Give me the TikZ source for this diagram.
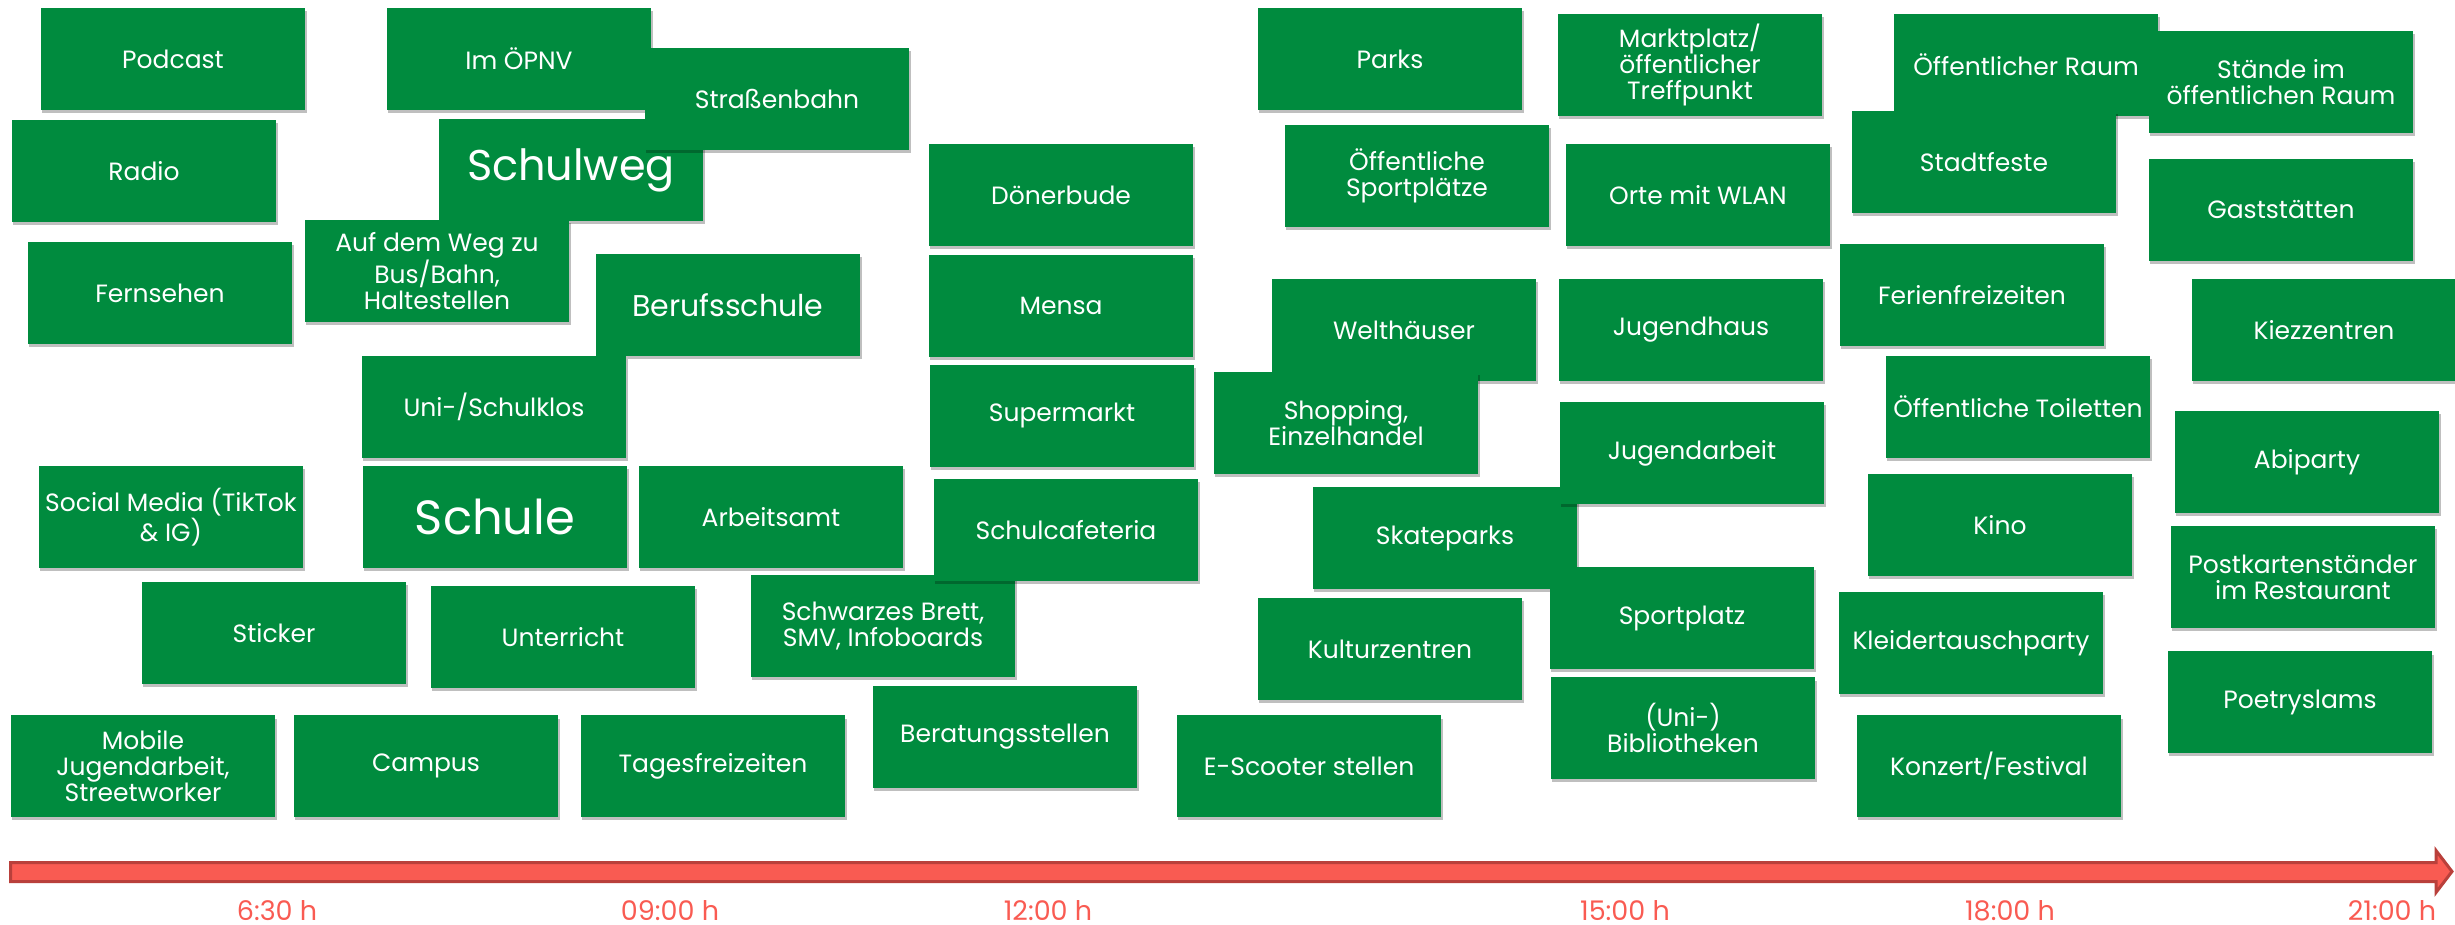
\documentclass[tikz,border=0pt]{standalone}
\usepackage{fontspec}
\setmainfont{Poppins}
\usepackage{xcolor}
\usepackage{tikz}
\usetikzlibrary{shadows}

\definecolor{boxgreen}{RGB}{0,139,62}
\definecolor{timered}{RGB}{249,91,82}
\definecolor{timedark}{RGB}{185,64,59}

\tikzset{
    box/.style={fill=boxgreen, text=white, align=center, inner sep=0pt,
        minimum width=105.8pt, minimum height=40.6pt,
        font=\fontsize{10}{10.4}\selectfont,
        drop shadow={shadow xshift=0.5pt, shadow yshift=-1.3pt, fill=black, opacity=0.25}},
    timelabel/.style={text=timered, anchor=base, inner sep=0pt, font=\fontsize{10.8}{13}\selectfont}
}

\begin{document}
\begin{tikzpicture}[x=0.4pt, y=-0.4pt]
            \useasboundingbox (0,0) rectangle (2455,925);

            % the big ones first, the others lie on top of them
            \node[box, font=\fontsize{17.2}{20}\selectfont] (schulweg) at (571,170) {Schulweg};
            \node[box, font=\fontsize{19.2}{22}\selectfont] (schule) at (495,517) {Schule};
            \node[box, font=\fontsize{12}{14}\selectfont] (beruf) at (728,305) {Berufsschule};

            \foreach \n/\x/\y/\t in {pod/173/59/Podcast, oepnv/519/59/Im ÖPNV, strab/777/99/Straßenbahn,
                    radio/144/171/Radio, weg/437/271/{Auf dem Weg zu\\Bus/Bahn,\\Haltestellen},
                    tv/160/293/Fernsehen, klos/494/407/{Uni-/Schulklos}, social/171/517/{Social Media (TikTok\\\& IG)},
                    amt/771/517/Arbeitsamt, brett/883/626/{Schwarzes Brett,\\SMV, Infoboards},
                    cafe/1066/530/Schulcafeteria, sticker/274/633/Sticker, unterricht/563/637/Unterricht,
                    mobil/143/766/{Mobile\\Jugendarbeit,\\Streetworker}, campus/426/766/Campus,
                    tagesfz/713/766/Tagesfreizeiten, beratung/1005/737/Beratungsstellen,
                    doener/1061/195/Dönerbude, mensa/1061/306/Mensa, markt/1062/416/Supermarkt,
                    parks/1390/59/Parks, sport/1417/176/{Öffentliche\\Sportplätze}, welt/1404/330/Welthäuser,
                    shop/1346/423/{Shopping,\\Einzelhandel}, skate/1445/538/Skateparks,
                    kultur/1390/649/Kulturzentren, scooter/1309/766/E-Scooter stellen,
                    marktplatz/1690/65/{Marktplatz/\\öffentlicher\\Treffpunkt}, wlan/1698/195/Orte mit WLAN,
                    jhaus/1691/330/Jugendhaus, jarbeit/1692/453/Jugendarbeit, splatz/1682/618/Sportplatz,
                    biblio/1683/728/{(Uni-)\\Bibliotheken},
                    raum/2026/65/Öffentlicher Raum, feste/1984/162/Stadtfeste, ferien/1972/295/Ferienfreizeiten,
                    wc/2018/407/Öffentliche Toiletten, kino/2000/525/Kino, kleider/1971/643/Kleidertauschparty,
                    konzert/1989/766/{Konzert/Festival},
                    staende/2281/82/{Stände im\\öffentlichen Raum}, gast/2281/210/Gaststätten,
                    kiez/2324/330/Kiezzentren, abi/2307/462/Abiparty,
                    karten/2303/577/{Postkartenständer\\im Restaurant}, poetry/2300/702/Poetryslams} {
                    \node[box] (\n) at (\x,\y) {\t};
                }

            % time line
            \draw[timedark, fill=timered, line width=1.2pt] (10.5,862.5) -- (2436,862.5) -- (2436,850.5)
                -- (2452,871.5) -- (2436,892.5) -- (2436,881.5) -- (10.5,881.5) -- cycle;
            \foreach \t/\x in {6:30 h/277, 09:00 h/670, 12:00 h/1048, 15:00 h/1625, 18:00 h/2010, 21:00 h/2392} {
                    \node[timelabel] (t\x) at (\x,920) {\t};
                }

        \end{tikzpicture}
\end{document}
